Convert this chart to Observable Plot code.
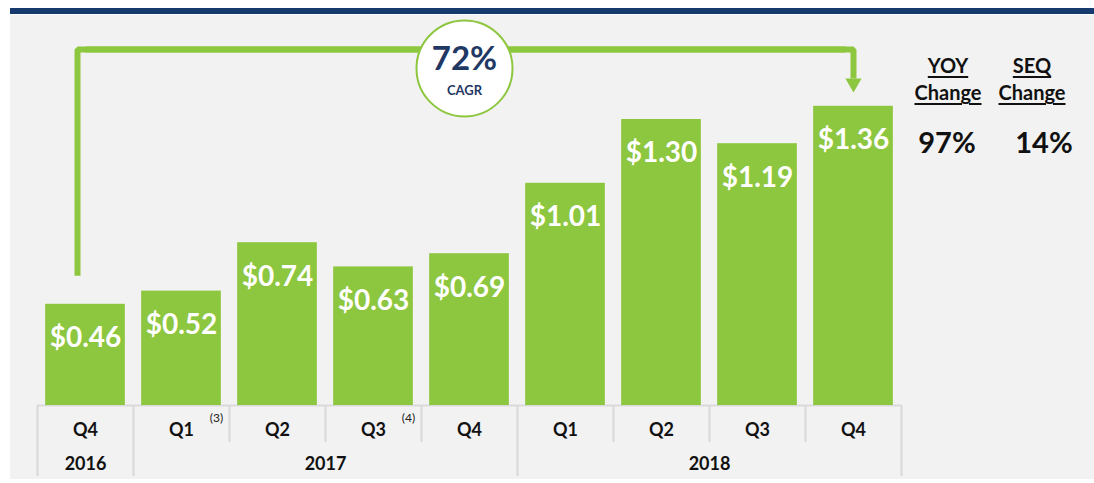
<!DOCTYPE html>
<html>
<head>
<meta charset="utf-8">
<script src="https://cdn.jsdelivr.net/npm/d3@7"></script>
<script src="https://cdn.jsdelivr.net/npm/@observablehq/plot@0.6"></script>
<style>
  html, body { margin: 0; padding: 0; background: #ffffff; }
  #wrap { position: relative; width: 1094px; height: 483px; overflow: hidden; font-family: Lato, "Noto Sans", sans-serif; }
  #navy { position: absolute; left: 10px; top: 8px; width: 1084px; height: 6px; background: #173a6e; }
  #panel { position: absolute; left: 10px; top: 15px; width: 1084px; height: 464px; background: #f2f2f2; }
  #chart { position: absolute; left: 0; top: 0; }
  .chg { position: absolute; transform: translateX(-50%); text-align: center; font-weight: 700; color: #111; }
  .chg .hdr { font-size: 20px; line-height: 27px; text-decoration: underline; text-decoration-thickness: 2px; text-underline-offset: 3px; }
  .chg .val { font-size: 29px; line-height: 34px; margin-top: 19px; }
</style>
</head>
<body>
<div id="wrap">
  <div id="navy"></div>
  <div id="panel"></div>
  <div id="chart"></div>
  <div id="changes"></div>
</div>
<script>
// ---- data ----
const quarters = ["Q4", "Q1", "Q2", "Q3", "Q4", "Q1", "Q2", "Q3", "Q4"];
const years = ["2016", "2017", "2017", "2017", "2017", "2018", "2018", "2018", "2018"];
const values = [0.46, 0.52, 0.74, 0.63, 0.69, 1.01, 1.30, 1.19, 1.36];
const footnotes = ["", "(3)", "", "(4)", "", "", "", "", ""];
const cagrValue = "72%";
const cagrLabel = "CAGR";
const changeHeaders = ["YOY", "SEQ"];
const changeValues = ["97%", "14%"];

// ---- layout / style constants ----
const GREEN = "#8dc63f";
const NAVY = "#1f3864";
const GRID = "#d9d9d9";
const ROW1_DEPTH = -0.168;   // table row 1 depth (y units)
const ROW2_DEPTH = -0.323;   // table full depth (y units)
const ARROW = { start: 0.59, top: 1.618, end: 1.486, tip: 1.465 };
const CIRCLE_Y = 1.532;

const data = quarters.map((q, i) => ({
  key: `${q} ${years[i]}`, q, year: years[i], value: values[i], note: footnotes[i], i
}));
const keys = data.map(d => d.key);
const boundaries = data.map((d, i) => ({ key: d.key, long: i === 0 || d.year !== data[i - 1].year }));
const lastKey = keys[keys.length - 1];

// year groups
const yearGroups = [];
data.forEach(d => {
  let g = yearGroups.find(g => g.year === d.year);
  if (!g) { g = { year: d.year, keys: [] }; yearGroups.push(g); }
  g.keys.push(d.key);
});
const yearOdd = yearGroups.filter(g => g.keys.length % 2 === 1).map(g => ({ year: g.year, key: g.keys[(g.keys.length - 1) / 2] }));
const yearEven = yearGroups.filter(g => g.keys.length % 2 === 0).map(g => ({ year: g.year, key: g.keys[g.keys.length / 2 - 1] }));

const first = keys[0];
const cagrKey = keys[4];
const lineA = [
  { x: first, y: ARROW.start }, { x: first, y: ARROW.top }, { x: lastKey, y: ARROW.top }
];
const lineB = [
  { x: first, y: ARROW.top }, { x: lastKey, y: ARROW.top }, { x: lastKey, y: ARROW.end }
];

const chart = Plot.plot({
  width: 1094,
  height: 483,
  marginLeft: 37,
  marginRight: 193,
  marginTop: 20,
  marginBottom: 78,
  style: { background: "transparent", fontFamily: "Lato, 'Noto Sans', sans-serif" },
  x: { domain: keys, paddingInner: 0.17, paddingOuter: 0.085, round: false, axis: null },
  y: { domain: [0, 1.75], axis: null },
  marks: [
    // table lines
    Plot.ruleY([0], { stroke: GRID, strokeWidth: 2 }),
    Plot.ruleX(boundaries, { x: "key", y1: 0, y2: d => d.long ? ROW2_DEPTH : ROW1_DEPTH, dx: -48, stroke: GRID, strokeWidth: 2 }),
    Plot.ruleX([lastKey], { x: d => d, y1: 0, y2: ROW2_DEPTH, dx: 48, stroke: GRID, strokeWidth: 2 }),
    // bars
    Plot.barY(data, { x: "key", y: "value", fill: GREEN }),
    // value labels
    Plot.text(data, {
      x: "key", y: "value", text: d => "$" + d.value.toFixed(2), dy: 34,
      fill: "white", fontSize: 28, fontWeight: 700, lineAnchor: "middle"
    }),
    // quarter labels
    Plot.text(data, { x: "key", text: "q", frameAnchor: "bottom", dy: 25, fontSize: 18, fontWeight: 700, fill: "#111", lineAnchor: "middle" }),
    // footnotes
    Plot.text(data.filter(d => d.note), { x: "key", text: "note", frameAnchor: "bottom", dy: 13, dx: 35, fontSize: 12, fill: "#222", lineAnchor: "middle" }),
    // year labels
    Plot.text(yearOdd, { x: "key", text: "year", frameAnchor: "bottom", dy: 59, fontSize: 18, fontWeight: 700, fill: "#111", lineAnchor: "middle" }),
    Plot.text(yearEven, { x: "key", text: "year", frameAnchor: "bottom", dy: 59, dx: 48, fontSize: 18, fontWeight: 700, fill: "#111", lineAnchor: "middle" }),
    // CAGR connector
    Plot.line(lineA, { x: "x", y: "y", dx: -8, stroke: GREEN, strokeWidth: 6, strokeLinejoin: "miter", strokeLinecap: "butt", curve: "linear" }),
    Plot.line(lineB, { x: "x", y: "y", stroke: GREEN, strokeWidth: 6, strokeLinejoin: "miter", strokeLinecap: "butt", curve: "linear" }),
    Plot.dot([lastKey], { x: d => d, y: ARROW.tip, symbol: "triangle", rotate: 180, r: 6, fill: GREEN, stroke: "none" }),
    // CAGR circle
    Plot.dot([cagrKey], { x: d => d, y: CIRCLE_Y, dx: -5, r: 48, fill: "white", stroke: GREEN, strokeWidth: 2 }),
    Plot.text([cagrValue], { x: () => cagrKey, y: CIRCLE_Y, text: d => d, dx: -5, dy: -9, fontSize: 33, fontWeight: 700, fill: NAVY, lineAnchor: "middle" }),
    Plot.text([cagrLabel], { x: () => cagrKey, y: CIRCLE_Y, text: d => d, dx: -5, dy: 22.5, fontSize: 13, fontWeight: 700, fill: NAVY, lineAnchor: "middle" })
  ]
});
document.getElementById("chart").appendChild(chart);

// YOY / SEQ change table
const changeX = [948, 1032];
const valueShift = [-1, 12];
const wrap = document.getElementById("changes");
changeHeaders.forEach((h, i) => {
  const div = document.createElement("div");
  div.className = "chg";
  div.style.left = changeX[i] + "px";
  div.style.top = "52px";
  div.innerHTML = `<div class="hdr">${h}</div><div class="hdr">Change</div><div class="val" style="position:relative;left:${valueShift[i]}px">${changeValues[i]}</div>`;
  wrap.appendChild(div);
});
</script>
</body>
</html>
